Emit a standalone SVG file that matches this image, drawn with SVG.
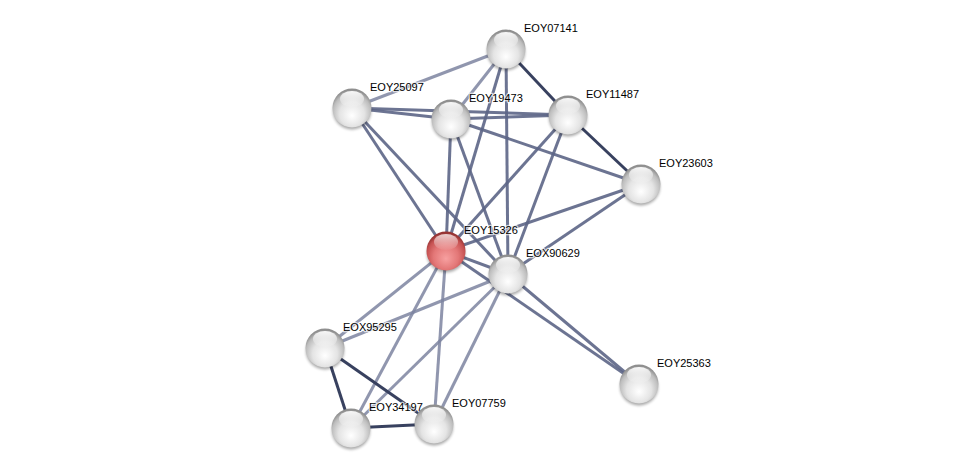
<svg xmlns="http://www.w3.org/2000/svg" width="976" height="473" viewBox="0 0 976 473">
<defs>
<radialGradient id="gw" cx="50%" cy="62%" r="58%" fx="50%" fy="70%">
<stop offset="0" stop-color="#ffffff"/>
<stop offset="0.55" stop-color="#e4e4e4"/>
<stop offset="0.85" stop-color="#bdbdbd"/>
<stop offset="1" stop-color="#8f8f8f"/>
</radialGradient>
<radialGradient id="gr" cx="50%" cy="62%" r="58%" fx="50%" fy="70%">
<stop offset="0" stop-color="#f7a0a0"/>
<stop offset="0.55" stop-color="#e37777"/>
<stop offset="0.85" stop-color="#c65252"/>
<stop offset="1" stop-color="#963434"/>
</radialGradient>
<linearGradient id="gloss" x1="0" y1="0" x2="0" y2="1">
<stop offset="0" stop-color="#ffffff" stop-opacity="0.95"/>
<stop offset="1" stop-color="#ffffff" stop-opacity="0.05"/>
</linearGradient>
<filter id="sh" x="-50%" y="-50%" width="200%" height="200%">
<feGaussianBlur stdDeviation="1.6"/>
</filter>
<g id="bub">
<ellipse cx="0" cy="3" rx="19" ry="18.5" fill="#000" opacity="0.35" filter="url(#sh)"/>
</g>
</defs>
<style>
.e{fill:none;stroke-width:3;stroke-linecap:butt}
.d{stroke:#38415f}
.m{stroke:#5c6586;stroke-opacity:0.9}
.l{stroke:#7c84a0;stroke-opacity:0.85}
.lab{font-family:"Liberation Sans",Arial,sans-serif;font-size:11px;fill:#000;stroke:#fff;stroke-width:2.5;stroke-opacity:0.7;paint-order:stroke;stroke-linejoin:round}
</style>
<rect width="976" height="473" fill="#fff"/>
<g id="edges">
<line class="e l" x1="506" y1="49" x2="352" y2="108"/>
<line class="e l" x1="506" y1="49" x2="451" y2="119"/>
<line class="e d" x1="506" y1="49" x2="568" y2="115"/>
<line class="e m" x1="506" y1="49" x2="446" y2="251"/>
<line class="e m" x1="506" y1="49" x2="508" y2="274"/>
<line class="e m" x1="352" y1="108" x2="451" y2="119"/>
<line class="e m" x1="352" y1="108" x2="568" y2="115"/>
<line class="e m" x1="352" y1="108" x2="446" y2="251"/>
<line class="e m" x1="352" y1="108" x2="508" y2="274"/>
<line class="e m" x1="451" y1="119" x2="568" y2="115"/>
<line class="e m" x1="451" y1="119" x2="641" y2="184"/>
<line class="e m" x1="451" y1="119" x2="446" y2="251"/>
<line class="e m" x1="451" y1="119" x2="508" y2="274"/>
<line class="e d" x1="568" y1="115" x2="641" y2="184"/>
<line class="e m" x1="568" y1="115" x2="446" y2="251"/>
<line class="e m" x1="568" y1="115" x2="508" y2="274"/>
<line class="e m" x1="641" y1="184" x2="446" y2="251"/>
<line class="e m" x1="641" y1="184" x2="508" y2="274"/>
<line class="e m" x1="446" y1="251" x2="508" y2="274"/>
<line class="e l" x1="446" y1="251" x2="325" y2="348"/>
<line class="e l" x1="446" y1="251" x2="351" y2="428"/>
<line class="e l" x1="446" y1="251" x2="434" y2="424"/>
<line class="e m" x1="446" y1="251" x2="639" y2="384"/>
<line class="e l" x1="508" y1="274" x2="325" y2="348"/>
<line class="e l" x1="508" y1="274" x2="351" y2="428"/>
<line class="e l" x1="508" y1="274" x2="434" y2="424"/>
<line class="e m" x1="508" y1="274" x2="639" y2="384"/>
<line class="e d" x1="325" y1="348" x2="351" y2="428"/>
<line class="e d" x1="325" y1="348" x2="434" y2="424"/>
<line class="e d" x1="351" y1="428" x2="434" y2="424"/>
</g>
<g id="EOY07141" transform="translate(506,49)">
<use href="#bub"/><circle r="19.5" fill="url(#gw)"/><ellipse cx="0" cy="-9" rx="12" ry="8" fill="url(#gloss)"/>
<text class="lab" x="18" y="-17">EOY07141</text>
</g>
<g id="EOY25097" transform="translate(352,108)">
<use href="#bub"/><circle r="19.5" fill="url(#gw)"/><ellipse cx="0" cy="-9" rx="12" ry="8" fill="url(#gloss)"/>
<text class="lab" x="18" y="-17">EOY25097</text>
</g>
<g id="EOY19473" transform="translate(451,119)">
<use href="#bub"/><circle r="19.5" fill="url(#gw)"/><ellipse cx="0" cy="-9" rx="12" ry="8" fill="url(#gloss)"/>
<text class="lab" x="18" y="-17">EOY19473</text>
</g>
<g id="EOY11487" transform="translate(568,115)">
<use href="#bub"/><circle r="19.5" fill="url(#gw)"/><ellipse cx="0" cy="-9" rx="12" ry="8" fill="url(#gloss)"/>
<text class="lab" x="18" y="-17">EOY11487</text>
</g>
<g id="EOY23603" transform="translate(641,184)">
<use href="#bub"/><circle r="19.5" fill="url(#gw)"/><ellipse cx="0" cy="-9" rx="12" ry="8" fill="url(#gloss)"/>
<text class="lab" x="18" y="-17">EOY23603</text>
</g>
<g id="EOY15326" transform="translate(446,251)">
<use href="#bub"/><circle r="19.5" fill="url(#gr)"/><ellipse cx="0" cy="-9" rx="12" ry="8" fill="url(#gloss)" opacity="0.8"/>
<text class="lab" x="18" y="-17">EOY15326</text>
</g>
<g id="EOX90629" transform="translate(508,274)">
<use href="#bub"/><circle r="19.5" fill="url(#gw)"/><ellipse cx="0" cy="-9" rx="12" ry="8" fill="url(#gloss)"/>
<text class="lab" x="18" y="-17">EOX90629</text>
</g>
<g id="EOX95295" transform="translate(325,348)">
<use href="#bub"/><circle r="19.5" fill="url(#gw)"/><ellipse cx="0" cy="-9" rx="12" ry="8" fill="url(#gloss)"/>
<text class="lab" x="18" y="-17">EOX95295</text>
</g>
<g id="EOY25363" transform="translate(639,384)">
<use href="#bub"/><circle r="19.5" fill="url(#gw)"/><ellipse cx="0" cy="-9" rx="12" ry="8" fill="url(#gloss)"/>
<text class="lab" x="18" y="-17">EOY25363</text>
</g>
<g id="EOY34197" transform="translate(351,428)">
<use href="#bub"/><circle r="19.5" fill="url(#gw)"/><ellipse cx="0" cy="-9" rx="12" ry="8" fill="url(#gloss)"/>
<text class="lab" x="18" y="-17">EOY34197</text>
</g>
<g id="EOY07759" transform="translate(434,424)">
<use href="#bub"/><circle r="19.5" fill="url(#gw)"/><ellipse cx="0" cy="-9" rx="12" ry="8" fill="url(#gloss)"/>
<text class="lab" x="18" y="-17">EOY07759</text>
</g>
</svg>
